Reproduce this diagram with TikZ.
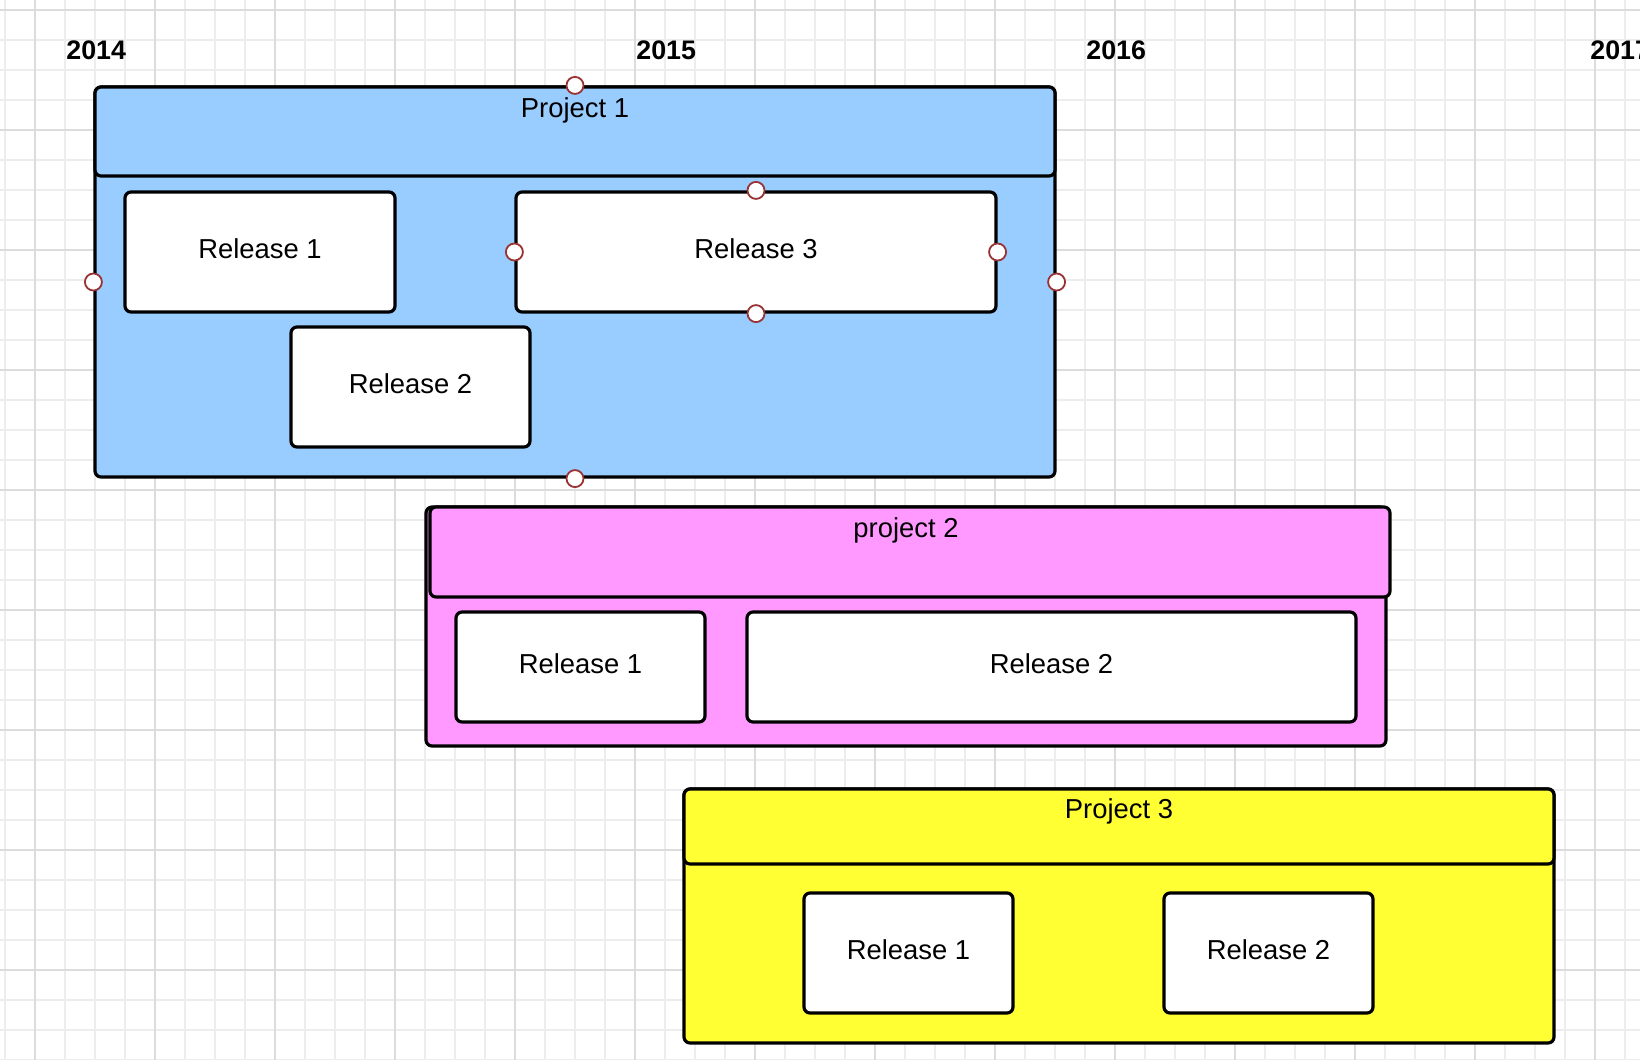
\documentclass[tikz,border=0pt]{standalone}
\usepackage{fontspec}
\setmainfont{Liberation Sans}
\definecolor{pblue}{HTML}{99CCFF}
\definecolor{ppink}{HTML}{FF99FF}
\definecolor{pyellow}{HTML}{FFFF33}
\definecolor{gridminor}{HTML}{EDEDED}
\definecolor{gridmajor}{HTML}{DCDCDC}
\definecolor{handlered}{HTML}{993333}
\begin{document}
\begin{tikzpicture}[x=0.5pt,y=-0.5pt,
  every node/.style={font=\fontsize{13.7}{16}\selectfont},
  box/.style={draw=black, line width=1.6pt, rounded corners=3pt, inner sep=0pt, rectangle},
  relbox/.style={box, fill=white, text height=7pt, text depth=1pt},
  yearlbl/.style={font=\fontsize{13.4}{15}\selectfont\bfseries, anchor=base west, inner sep=0pt},
  hdrlbl/.style={anchor=base, inner sep=0pt},
  handle/.style={circle, draw=handlered, fill=white, line width=0.9pt, minimum size=8.5pt, inner sep=0pt}]
\useasboundingbox (0,0) rectangle (1640,1060);
\clip (0,0) rectangle (1640,1060);
\fill[white] (0,0) rectangle (1640,1060);
% grid
\foreach \x in {5,35,...,1640} \draw[gridminor, line width=0.9pt] (\x,0) -- (\x,1060);
\foreach \y in {10,40,...,1060} \draw[gridminor, line width=0.9pt] (0,\y) -- (1640,\y);
\foreach \x in {35,155,...,1640} \draw[gridmajor, line width=0.9pt] (\x,0) -- (\x,1060);
\foreach \y in {10,130,...,1060} \draw[gridmajor, line width=0.9pt] (0,\y) -- (1640,\y);
% years
\node[yearlbl] (y2014) at (66,59) {2014};
\node[yearlbl] (y2015) at (636,59) {2015};
\node[yearlbl] (y2016) at (1086,59) {2016};
\node[yearlbl] (y2017) at (1590,59) {2017};
% Project 1
\node[box, fill=pblue, minimum width=480pt, minimum height=195pt] (p1) at (575,282) {};
\node[box, fill=pblue, minimum width=480pt, minimum height=44.5pt] (p1h) at (575,131.5) {};
\node[hdrlbl] (p1t) at (575,117) {Project 1};
\node[relbox, minimum width=135pt, minimum height=60pt] (p1r1) at (260,252) {Release 1};
\node[relbox, minimum width=240pt, minimum height=60pt] (p1r3) at (756,252) {Release 3};
\node[relbox, minimum width=119.5pt, minimum height=60pt] (p1r2) at (410.5,387) {Release 2};
% handles
\node[handle] (h1) at (p1.north) {};
\node[handle] (h2) at (p1.south) {};
\node[handle] (h3) at (p1.west) {};
\node[handle] (h4) at (p1.east) {};
\node[handle] (h5) at (p1r3.north) {};
\node[handle] (h6) at (p1r3.south) {};
\node[handle] (h7) at (p1r3.west) {};
\node[handle] (h8) at (p1r3.east) {};
% Project 2
\node[box, fill=ppink, minimum width=480pt, minimum height=119.5pt] (p2) at (906,626.5) {};
\node[box, fill=ppink, minimum width=480pt, minimum height=45pt] (p2h) at (910,552) {};
\node[hdrlbl] (p2t) at (906,537) {project 2};
\node[relbox, minimum width=124.5pt, minimum height=55pt] (p2r1) at (580.5,667) {Release 1};
\node[relbox, minimum width=304.5pt, minimum height=55pt] (p2r2) at (1051.5,667) {Release 2};
% Project 3
\node[box, fill=pyellow, minimum width=435pt, minimum height=127pt] (p3) at (1119,916) {};
\node[box, fill=pyellow, minimum width=435pt, minimum height=37.5pt] (p3h) at (1119,826.5) {};
\node[hdrlbl] (p3t) at (1119,818) {Project 3};
\node[relbox, minimum width=104.5pt, minimum height=60pt] (p3r1) at (908.5,953) {Release 1};
\node[relbox, minimum width=104.5pt, minimum height=60pt] (p3r2) at (1268.5,953) {Release 2};
\end{tikzpicture}
\end{document}
